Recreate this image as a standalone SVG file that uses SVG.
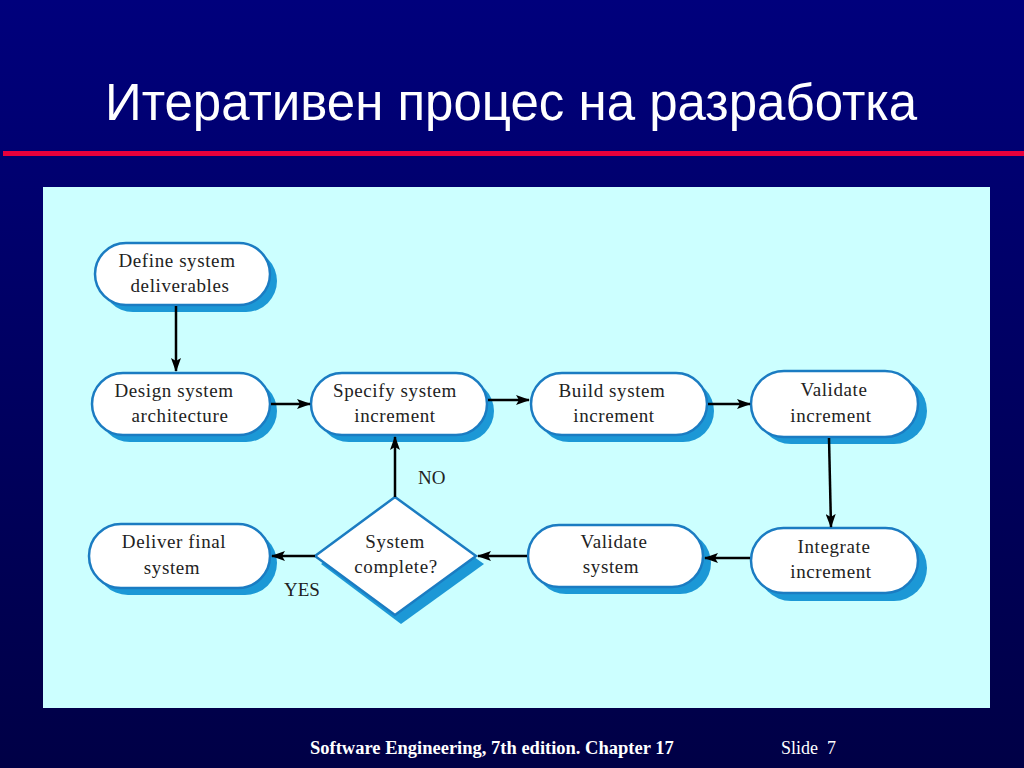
<svg xmlns="http://www.w3.org/2000/svg" width="1024" height="768" viewBox="0 0 1024 768">
<defs>
<linearGradient id="bg" x1="0" y1="0" x2="0" y2="1">
<stop offset="0" stop-color="#00007c"/>
<stop offset="1" stop-color="#000046"/>
</linearGradient>
<marker id="ah" viewBox="0 0 14 10" refX="13" refY="5" markerWidth="14" markerHeight="10" markerUnits="userSpaceOnUse" orient="auto">
<path d="M0,0 L14,5 L0,10 L3,5 Z" fill="#000"/>
</marker>
<style>
.node{fill:#fff;stroke:#1b7cc2;stroke-width:2.5}
.shadow{fill:#1c98d6}
.lbl{font-family:"Liberation Serif","Times New Roman",serif;font-size:19px;letter-spacing:0.6px;fill:#222;text-anchor:middle}
.conn{stroke:#000;stroke-width:2.5;fill:none;marker-end:url(#ah)}
.ann{font-family:"Liberation Serif","Times New Roman",serif;font-size:19px;fill:#222}
</style>
</defs>
<rect width="1024" height="768" fill="url(#bg)"/>
<text x="105" y="120" font-family="Liberation Sans, Arial, sans-serif" font-size="51" fill="#fff">Итеративен процес на разработка</text>
<rect x="3" y="151" width="1021" height="5" fill="#e8003c"/>
<rect x="43" y="187" width="947" height="521" fill="#ccffff"/>

<g id="n1">
<rect class="shadow" x="102" y="250" width="175" height="62" rx="31"/>
<rect class="node" x="95" y="243" width="175" height="62" rx="31"/>
<text class="lbl" x="177" y="267">Define system</text>
<text class="lbl" x="180" y="292">deliverables</text>
</g>
<g id="n2">
<rect class="shadow" x="99" y="380" width="178" height="62" rx="31"/>
<rect class="node" x="92" y="373" width="178" height="62" rx="31"/>
<text class="lbl" x="174" y="397">Design system</text>
<text class="lbl" x="180" y="422">architecture</text>
</g>
<g id="n3">
<rect class="shadow" x="318" y="380" width="176" height="62" rx="31"/>
<rect class="node" x="311" y="373" width="176" height="62" rx="31"/>
<text class="lbl" x="395" y="397">Specify system</text>
<text class="lbl" x="395" y="422">increment</text>
</g>
<g id="n4">
<rect class="shadow" x="538" y="380" width="176" height="62" rx="31"/>
<rect class="node" x="531" y="373" width="176" height="62" rx="31"/>
<text class="lbl" x="612" y="397">Build system</text>
<text class="lbl" x="614" y="422">increment</text>
</g>
<g id="n5">
<rect class="shadow" x="758" y="378" width="169" height="66" rx="33"/>
<rect class="node" x="751" y="371" width="167" height="66" rx="33"/>
<text class="lbl" x="834" y="396">Validate</text>
<text class="lbl" x="831" y="422">increment</text>
</g>
<g id="n6">
<rect class="shadow" x="758" y="535" width="169" height="66" rx="33"/>
<rect class="node" x="751" y="528" width="167" height="65" rx="32.5"/>
<text class="lbl" x="834" y="553">Integrate</text>
<text class="lbl" x="831" y="578">increment</text>
</g>
<g id="n7">
<rect class="shadow" x="535" y="532" width="176" height="62" rx="31"/>
<rect class="node" x="528" y="525" width="175" height="62" rx="31"/>
<text class="lbl" x="614" y="548">Validate</text>
<text class="lbl" x="611" y="573">system</text>
</g>
<g id="n8">
<rect class="shadow" x="96" y="531" width="181" height="64" rx="32"/>
<rect class="node" x="89" y="524" width="181" height="64" rx="32"/>
<text class="lbl" x="174" y="548">Deliver final</text>
<text class="lbl" x="172" y="574">system</text>
</g>
<g id="d1">
<polygon class="shadow" points="401,505 484,564 401,624 321,564"/>
<polygon class="node" points="395,497 476,556 395,615 315,556"/>
<text class="lbl" x="395" y="548">System</text>
<text class="lbl" x="396" y="573">complete?</text>
</g>

<g id="connectors">
<line class="conn" x1="176" y1="306" x2="176" y2="371"/>
<line class="conn" x1="271" y1="404" x2="310" y2="404"/>
<line class="conn" x1="488" y1="400" x2="529" y2="400"/>
<line class="conn" x1="708" y1="404" x2="750" y2="404"/>
<line class="conn" x1="829" y1="438" x2="831" y2="527"/>
<line class="conn" x1="750" y1="558" x2="705" y2="558"/>
<line class="conn" x1="527" y1="556" x2="478" y2="556"/>
<line class="conn" x1="395" y1="497" x2="395" y2="437"/>
<line class="conn" x1="315" y1="556" x2="272" y2="556"/>
</g>
<text class="ann" x="418" y="484">NO</text>
<text class="ann" x="284" y="596">YES</text>

<text x="310" y="754" font-family="Liberation Serif, Times New Roman, serif" font-size="18.5" font-weight="bold" fill="#fff">Software Engineering, 7th edition. Chapter 17</text>
<text x="781" y="754" font-family="Liberation Serif, Times New Roman, serif" font-size="18" fill="#fff" xml:space="preserve">Slide  7</text>
</svg>
